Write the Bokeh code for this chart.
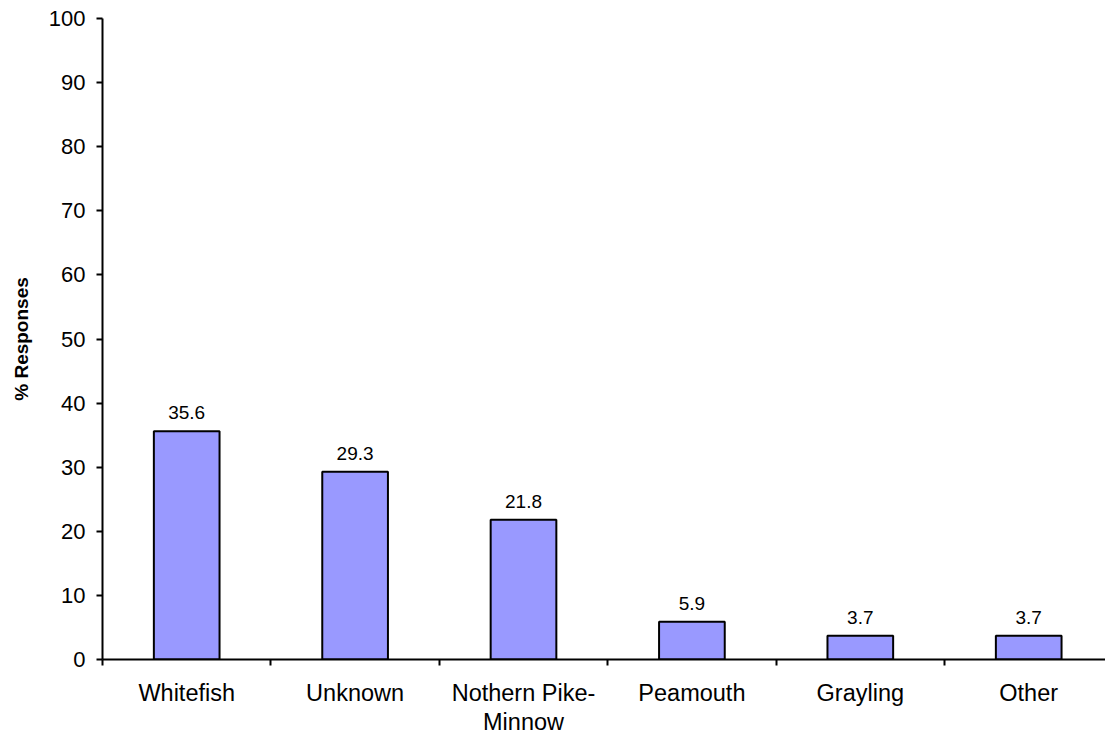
from bokeh.plotting import figure
from bokeh.models import ColumnDataSource, FixedTicker, Range1d, LabelSet
from bokeh.core.properties import value
from bokeh.embed import file_html
from bokeh.resources import INLINE

categories = ["Whitefish", "Unknown", "Nothern Pike-\nMinnow", "Peamouth", "Grayling", "Other"]
values = [35.6, 29.3, 21.8, 5.9, 3.7, 3.7]
value_labels = ["35.6", "29.3", "21.8", "5.9", "3.7", "3.7"]
y_ticks = list(range(0, 101, 10))

FONT = "Liberation Sans"

centers = [i + 0.5 for i in range(len(categories))]
src = ColumnDataSource(dict(x=centers, top=values, lab=value_labels))

p = figure(width=1105, height=738, output_backend="svg", toolbar_location=None,
           x_range=Range1d(0, 5.956), y_range=Range1d(0, 100),
           min_border_left=102, min_border_right=0, min_border_top=18, min_border_bottom=10)

p.vbar(x="x", top="top", width=0.39, bottom=0, source=src,
       fill_color="#9999FF", line_color="black", line_width=2)

labels = LabelSet(x="x", y="top", text="lab", source=src, text_align="center",
                  text_baseline="alphabetic", y_offset=12, text_font=value(FONT),
                  text_font_size=value("19px"), text_color="black")
p.add_layout(labels)

p.xgrid.visible = False
p.ygrid.visible = False
p.outline_line_color = None

xa = p.xaxis[0]
xa.ticker = FixedTicker(ticks=centers, minor_ticks=list(range(0, 7)))
xa.major_label_overrides = {c: lab for c, lab in zip(centers, categories)}
xa.major_tick_line_color = None
xa.minor_tick_line_color = "black"
xa.minor_tick_line_width = 2
xa.minor_tick_out = 6
xa.minor_tick_in = 0
xa.axis_line_width = 2
xa.axis_line_color = "black"
xa.major_label_text_font = FONT
xa.major_label_text_font_size = "23.5px"
xa.major_label_text_line_height = 1.15
xa.major_label_text_color = "black"
xa.major_label_standoff = 14

ya = p.yaxis[0]
ya.ticker = FixedTicker(ticks=y_ticks, minor_ticks=[])
ya.axis_line_width = 2
ya.axis_line_color = "black"
ya.major_tick_line_width = 2
ya.major_tick_line_color = "black"
ya.major_tick_out = 6
ya.major_tick_in = 0
ya.minor_tick_line_color = None
ya.major_label_text_font = FONT
ya.major_label_text_font_size = "22px"
ya.major_label_text_color = "black"
ya.major_label_standoff = 11
ya.axis_label = "% Responses"
ya.axis_label_text_font = FONT
ya.axis_label_text_font_style = "bold"
ya.axis_label_text_font_size = "19px"
ya.axis_label_text_color = "black"
ya.axis_label_standoff = 14

open("out.html", "w").write(file_html(p, INLINE))
